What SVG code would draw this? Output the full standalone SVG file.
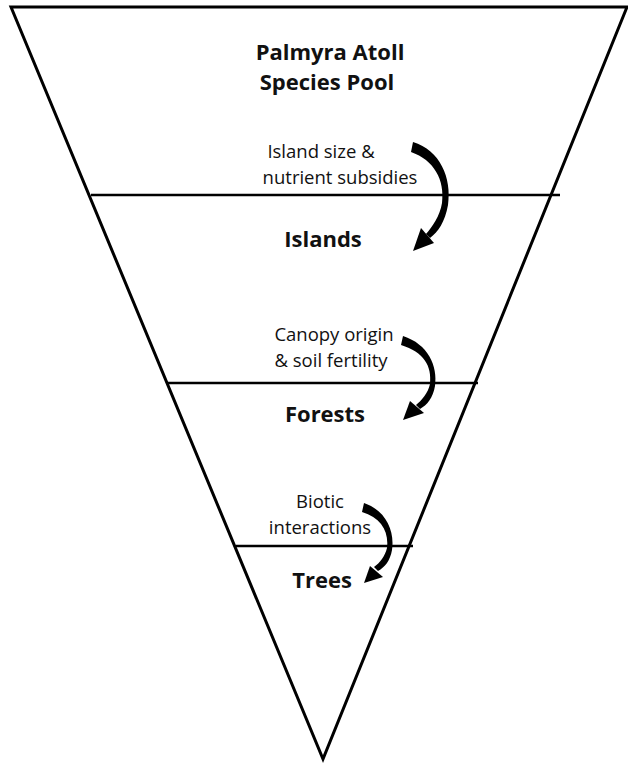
<svg xmlns="http://www.w3.org/2000/svg" width="628" height="763" viewBox="0 0 628 763">
<style>
.edge{fill:none;stroke:#000;stroke-width:3;stroke-linejoin:miter}
.div{stroke:#000;stroke-width:2.5}
.t{font-family:"Open Sans","Liberation Sans",sans-serif;font-size:18.5px;fill:#111;text-anchor:middle}
.b{font-family:"Open Sans","Liberation Sans",sans-serif;font-size:22px;font-weight:bold;fill:#111;text-anchor:middle}
.arr{fill:#000}
</style>
<rect width="628" height="763" fill="#fff"/>
<g id="funnel">
<polygon class="edge" points="11,7 627,7 323,759"/>
</g>
<g id="connectors">
<line class="div" x1="91" y1="195" x2="560" y2="195"/>
<line class="div" x1="168" y1="383" x2="478" y2="383"/>
<line class="div" x1="236" y1="546" x2="413" y2="546"/>
<path class="arr" d="M413,142 C440,150 452,178 448,205 C445,222 438,232 430,238 L426,234 C432,227 440,216 442,203 C445,180 434,160 411,152 Z"/>
<polygon class="arr" points="413,251 421,228 434,243"/>
<path class="arr" d="M403,336 C428,344 438,366 435,386 C433,398 427,405 420,409 L416,405 C422,400 428,393 430,384 C432,366 424,352 401,345 Z"/>
<polygon class="arr" points="403,420 410,401 424,413"/>
<path class="arr" d="M364,503 C385,510 395,530 392,550 C390,561 385,567 378,571 L374,567 C380,563 385,556 387,548 C389,531 381,518 362,512 Z"/>
<polygon class="arr" points="364,583 370,566 383,577"/>
</g>
<g id="pool">
<text class="b" x="330" y="60">Palmyra Atoll</text>
<text class="b" x="327" y="90">Species Pool</text>
</g>
<g id="islands-driver">
<text class="t" x="321" y="158">Island size &amp;</text>
<text class="t" x="340" y="184">nutrient subsidies</text>
</g>
<g id="islands">
<text class="b" x="323" y="247">Islands</text>
</g>
<g id="forests-driver">
<text class="t" x="334" y="341">Canopy origin</text>
<text class="t" x="331" y="367">&amp; soil fertility</text>
</g>
<g id="forests">
<text class="b" x="325" y="422">Forests</text>
</g>
<g id="trees-driver">
<text class="t" x="320" y="508">Biotic</text>
<text class="t" x="320" y="534">interactions</text>
</g>
<g id="trees">
<text class="b" x="322" y="588">Trees</text>
</g>
</svg>
